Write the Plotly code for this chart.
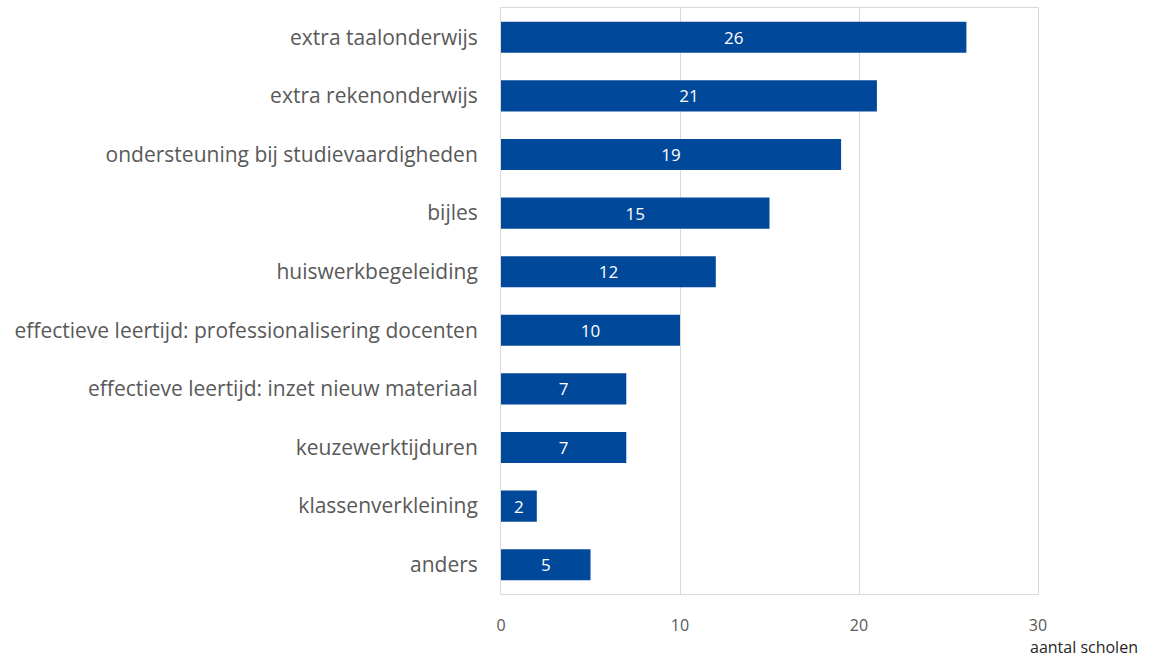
import plotly.graph_objects as go

# Ondersteuningsvormen en aantal scholen (van boven naar beneden)
categories = [
    "extra taalonderwijs",
    "extra rekenonderwijs",
    "ondersteuning bij studievaardigheden",
    "bijles",
    "huiswerkbegeleiding",
    "effectieve leertijd: professionalisering docenten",
    "effectieve leertijd: inzet nieuw materiaal",
    "keuzewerktijduren",
    "klassenverkleining",
    "anders",
]
values = [26, 21, 19, 15, 12, 10, 7, 7, 2, 5]
tick_values = [0, 10, 20, 30]
x_title = "aantal scholen"

FONT = "Open Sans"
GREY = "#595959"
LINE = "#d9d9d9"
BLUE = "#004899"

fig = go.Figure(
    go.Bar(
        x=values,
        y=categories,
        orientation="h",
        marker=dict(color=BLUE, line=dict(width=0)),
        width=0.53,
        text=[str(v) for v in values],
        textposition="inside",
        insidetextanchor="middle",
        textangle=0,
        textfont=dict(family=FONT, size=17, color="white"),
        cliponaxis=False,
    )
)

fig.update_layout(
    width=1170,
    height=657,
    margin=dict(l=501, r=132, t=8, b=63),
    paper_bgcolor="white",
    plot_bgcolor="white",
    showlegend=False,
    uniformtext=dict(mode=False),
    font=dict(family=FONT, color=GREY),
)

fig.update_xaxes(
    range=[0, 30],
    tickvals=tick_values,
    ticktext=[str(t) for t in tick_values],
    tickfont=dict(family=FONT, size=16, color=GREY),
    showgrid=True,
    gridcolor=LINE,
    gridwidth=1,
    zeroline=False,
    showline=True,
    linecolor=LINE,
    linewidth=1,
    mirror=True,
    ticks="",
    ticklabelstandoff=17,
)

fig.update_yaxes(
    categoryorder="array",
    categoryarray=categories[::-1],
    tickfont=dict(family=FONT, size=21, color=GREY),
    showgrid=False,
    zeroline=False,
    showline=True,
    linecolor=LINE,
    linewidth=1,
    mirror=True,
    ticks="",
    ticklabelstandoff=18,
)

fig.add_annotation(
    text=x_title,
    xref="paper",
    yref="paper",
    x=1.0,
    y=0,
    xanchor="left",
    yanchor="top",
    xshift=-10,
    yshift=-40,
    showarrow=False,
    font=dict(family=FONT, size=16, color="#262626"),
)

fig.write_html("out.html")
